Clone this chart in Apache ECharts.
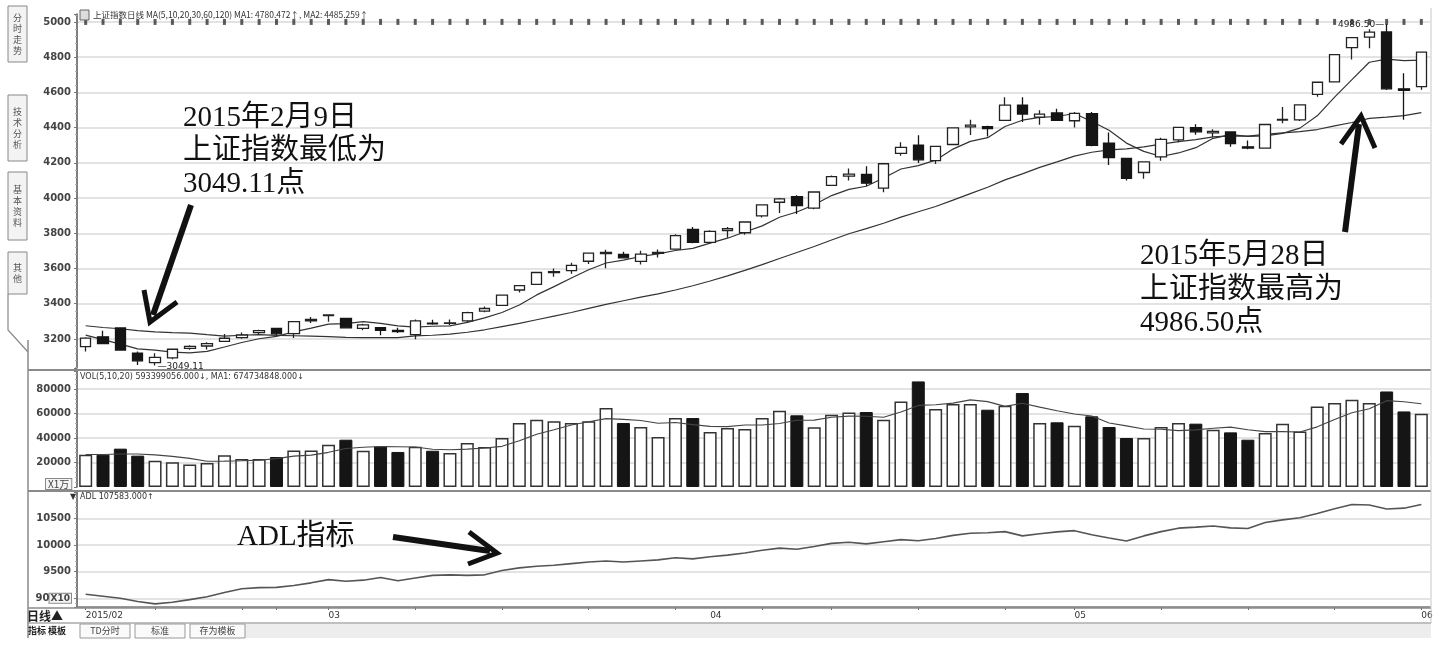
<!DOCTYPE html>
<html><head><meta charset="utf-8">
<script src="https://cdn.jsdelivr.net/npm/echarts@6/dist/echarts.min.js"></script>
<style>html,body{margin:0;padding:0;background:#fff}#c{width:1444px;height:650px}</style>
</head><body><div id="c"></div>
<script>
// ---------------- DATA ----------------
const dates = [
 '2015-02-03','2015-02-04','2015-02-05','2015-02-06','2015-02-09','2015-02-10','2015-02-11','2015-02-12','2015-02-13','2015-02-16','2015-02-17','2015-02-25','2015-02-26','2015-02-27',
 '2015-03-02','2015-03-03','2015-03-04','2015-03-05','2015-03-06','2015-03-09','2015-03-10','2015-03-11','2015-03-12','2015-03-13','2015-03-16','2015-03-17','2015-03-18','2015-03-19','2015-03-20','2015-03-23','2015-03-24','2015-03-25','2015-03-26','2015-03-27','2015-03-30','2015-03-31',
 '2015-04-01','2015-04-02','2015-04-03','2015-04-07','2015-04-08','2015-04-09','2015-04-10','2015-04-13','2015-04-14','2015-04-15','2015-04-16','2015-04-17','2015-04-20','2015-04-21','2015-04-22','2015-04-23','2015-04-24','2015-04-27','2015-04-28','2015-04-29','2015-04-30',
 '2015-05-04','2015-05-05','2015-05-06','2015-05-07','2015-05-08','2015-05-11','2015-05-12','2015-05-13','2015-05-14','2015-05-15','2015-05-18','2015-05-19','2015-05-20','2015-05-21','2015-05-22','2015-05-25','2015-05-26','2015-05-27','2015-05-28','2015-05-29',
 '2015-06-01'];
const monthLabels = ['2015/02','03','04','05','06'];

const openP = [3156,3212,3262,3120,3066,3092,3146,3160,3186,3207,3236,3260,3230,3303,
 3332,3317,3260,3264,3249,3224,3289,3289,3303,3358,3391,3478,3510,3576,3588,3641,3685,3680,3640,3686,3710,3822,
 3748,3815,3803,3899,3976,4008,3943,4072,4125,4134,4056,4254,4301,4212,4304,4404,4405,4441,4527,4460,4483,
 4439,4479,4311,4225,4145,4234,4330,4399,4370,4375,4291,4283,4442,4444,4589,4660,4854,4914,4943,4620,4633];
const closeP = [3204.91,3174.13,3136.53,3075.91,3095.12,3141.59,3157.70,3173.42,3203.83,3222.44,3246.91,3228.84,3298.36,3310.30,
 3336.28,3263.05,3279.53,3248.48,3241.19,3302.41,3286.07,3290.90,3349.32,3372.91,3449.30,3502.85,3577.30,3582.27,3617.32,3687.73,3691.41,3660.73,3682.09,3691.10,3786.57,3747.90,
 3810.29,3825.78,3863.93,3961.38,3994.81,3957.53,4034.31,4121.71,4135.56,4084.16,4194.82,4287.30,4217.08,4293.62,4398.49,4414.51,4393.69,4527.40,4476.62,4476.21,4441.66,
 4480.46,4298.71,4229.27,4112.21,4205.92,4333.58,4401.22,4375.76,4378.31,4308.69,4283.49,4417.55,4446.29,4529.42,4657.60,4813.80,4910.90,4941.71,4620.27,4611.74,4828.74];
const lowP = [3129,3170,3134,3052,3049.11,3084,3138,3140,3183,3201,3226,3222,3205,3291,
 3298,3260,3250,3221,3234,3198,3280,3278,3293,3351,3387,3463,3506,3553,3570,3626,3601,3657,3623,3662,3710,3744,
 3742,3775,3792,3890,3915,3910,3937,4069,4100,4069,4033,4240,4199,4193,4303,4358,4350,4441,4432,4416,4441,
 4400,4294,4187,4099,4110,4212,4317,4359,4345,4291,4277,4283,4425,4437,4575,4660,4787,4850,4614,4445,4615];
const highP = [3210,3247,3266,3129,3119,3146,3164,3181,3228,3237,3252,3262,3300,3324,
 3339,3319,3286,3266,3264,3311,3309,3311,3354,3384,3449,3503,3577,3600,3632,3688,3706,3695,3701,3708,3795,3835,
 3817,3835,3864,3961,4000,4016,4034,4128,4168,4180,4195,4317,4356,4293,4398,4444,4411,4572,4572,4499,4507,
 4489,4488,4372,4225,4205,4342,4401,4419,4391,4375,4327,4418,4517,4529,4657,4814,4911,4958,4986.50,4708,4829];
const ma5 = [3222,3196,3171,3144,3137,3125,3121,3129,3154,3180,3201,3215,3240,3261,3284,3287,3298,3288,3274,3267,
 3272,3274,3294,3320,3350,3393,3450,3497,3546,3593,3631,3648,3668,3683,3702,3714,3744,3772,3807,3842,
 3891,3921,3962,4014,4049,4067,4114,4165,4184,4215,4278,4322,4343,4406,4442,4458,4463,4480,4435,4385,
 4312,4265,4236,4256,4286,4339,4360,4350,4353,4367,4397,4467,4573,4672,4771,4789,4780,4783];
const ma20 = [3275,3265,3258,3247,3240,3236,3233,3224,3216,3221,3225,3220,3218,3216,3213,3209,3208,3207,3208,3217,
 3221,3227,3238,3252,3270,3288,3309,3330,3350,3374,3396,3417,3437,3456,3478,3502,3529,3558,3589,3622,
 3657,3691,3725,3762,3797,3826,3857,3892,3922,3952,3988,4025,4061,4103,4137,4174,4205,4238,4260,4273,
 4279,4291,4306,4320,4332,4347,4353,4352,4362,4370,4377,4389,4410,4429,4452,4459,4468,4485];
const volume = [26400,26400,31300,25600,21500,20200,18300,19600,25900,22900,22900,24500,29800,29800,34500,38600,29600,33100,28600,32900,
 29600,27700,35900,32700,40000,52200,54900,53600,52200,53600,64500,52200,49000,40800,56300,56300,44900,48200,47300,56300,
 62300,58500,48700,59000,60900,61200,54900,69900,86200,63700,67800,67800,63100,66400,76700,52200,52800,50000,57700,49000,
 40000,40000,49000,52200,51700,46800,44600,38600,44100,51700,45400,65800,68600,71300,68600,78000,61700,59800];
const volMa5 = [26500,26500,27000,27000,26200,25000,23400,21000,21100,21400,21900,23200,25200,26000,28300,31400,32500,33100,32900,32600,
 30800,30400,30900,31800,33200,37700,43100,46700,50600,53300,55800,55200,54300,52000,52600,50900,49500,49300,50600,50600,
 51800,54500,54600,57000,57900,57700,56900,61200,66600,67200,68500,71100,69700,65800,68400,65200,62200,59600,57900,52300,
 49900,47300,47100,46000,46600,47900,48900,46800,45200,45200,44900,49100,55100,60600,63900,70500,69600,67900];
const adl = [9076,9040,9000,8940,8895,8925,8975,9030,9110,9180,9200,9205,9240,9290,9350,9320,9340,9390,9330,9380,
 9430,9440,9430,9440,9520,9570,9600,9620,9650,9680,9700,9680,9700,9720,9760,9740,9780,9810,9850,9900,
 9940,9920,9970,10030,10050,10020,10060,10100,10080,10120,10180,10220,10230,10250,10170,10210,10245,10268,10190,10130,
 10074,10170,10250,10315,10335,10356,10320,10310,10420,10470,10510,10590,10680,10760,10750,10675,10690,10758];
const mineLevel = 5000;

// ---------------- helpers ----------------
const labelAt = {};
let mk = 0;
dates.forEach((d, i) => {
  if (i === 0 || d.slice(5, 7) !== dates[i - 1].slice(5, 7)) labelAt[i] = monthLabels[mk++];
});
function weekStart(i) {
  if (i === 0) return true;
  const a = new Date(dates[i - 1] + 'T00:00:00Z'), b = new Date(dates[i] + 'T00:00:00Z');
  const gap = (b - a) / 86400000;
  return b.getUTCDay() <= a.getUTCDay() || gap >= 7;
}

const LEFT = 77, WIDTH = 1353;
const axisFont = 'DejaVu Sans';
function yAx(grid, min, max, extra) {
  return Object.assign({
    type: 'value', gridIndex: grid, min: min, max: max, position: 'left',
    axisLine: { show: true, lineStyle: { color: '#555', width: 1.5 } },
    axisTick: { show: true, length: 3, lineStyle: { color: '#777' } },
    minorTick: { show: true, splitNumber: 5, length: 2, lineStyle: { color: '#aaa' } },
    axisLabel: { fontSize: 10, color: '#444', fontFamily: axisFont, fontWeight: 'bold', margin: 6,
      showMinLabel: false, showMaxLabel: false, formatter: (v) => String(v) },
    splitLine: { show: true, showMinLine: false, showMaxLine: false, lineStyle: { color: '#e3e3e3', width: 2 } }
  }, extra || {});
}

const G = [];
function T(x, y, text, font, extra) {
  G.push({ type: 'text', z: 100, silent: true,
    style: Object.assign({ x: x, y: y, text: text, font: font, fill: '#111', textAlign: 'left', textVerticalAlign: 'middle' }, extra || {}) });
}
function P(points, w, c) {
  G.push({ type: 'polyline', z: 100, silent: true, shape: { points: points },
    style: { stroke: c || '#111', lineWidth: w, fill: 'none', lineJoin: 'miter' } });
}
function R(x, y, w, h, stroke, fill, lw) {
  G.push({ type: 'rect', z: 90, silent: true, shape: { x: x, y: y, width: w, height: h },
    style: { stroke: stroke || 'none', fill: fill || 'none', lineWidth: lw || 1 } });
}

// frame / separators
P([[28, 370], [1431, 370]], 2, '#8a8a8a');
P([[28, 491], [1431, 491]], 2, '#8a8a8a');
P([[28, 608], [1431, 608]], 1.5, '#8a8a8a');
P([[28, 623], [1431, 623]], 1.5, '#aaa');
P([[28, 340], [28, 638]], 1.5, '#8a8a8a');
P([[1431, 8], [1431, 623]], 1, '#c8c8c8');

// sidebar tabs
const tabs = [['分时走势', 6, 56], ['技术分析', 95, 66], ['基本资料', 172, 68], ['其他', 252, 42]];
tabs.forEach(t => {
  R(8, t[1], 19, t[2], '#888', '#f3f3f3', 1);
  T(17.5, t[1] + t[2] / 2, t[0].split('').join('\n'), '9px "Noto Sans CJK SC"',
    { fill: '#555', textAlign: 'center', lineHeight: 11 });
});
P([[8, 294], [8, 330], [28, 352]], 1.2, '#888');

// panel titles
R(80, 10, 9, 10, '#666', '#ddd', 1);
T(93, 15, '上证指数日线 MA(5,10,20,30,60,120) MA1: 4780.472↑, MA2: 4485.259↑', '8.5px "Noto Sans CJK SC"', { fill: '#333' });
T(80, 377, 'VOL(5,10,20) 593399056.000↓, MA1: 674734848.000↓', '8px "DejaVu Sans"', { fill: '#333' });
T(70, 497, '▼', '8px "DejaVu Sans"', { fill: '#333' });
T(80, 497, 'ADL 107583.000↑', '8px "DejaVu Sans"', { fill: '#333' });
T(46, 484, 'X1万', '10px "Noto Sans CJK SC"', { fill: '#444', borderColor: '#888', borderWidth: 1, padding: [0, 2], backgroundColor: '#f4f4f4' });

// bottom strip
T(27, 616, '日线▲', 'bold 12px "Noto Sans CJK SC"', { fill: '#222' });
R(245, 624, 1186, 14, null, '#ededed');
T(28, 631, '指标 模板', 'bold 9px "Noto Sans CJK SC"', { fill: '#222' });
[['TD分时', 80, 50], ['标准', 135, 50], ['存为模板', 190, 55]].forEach(b => {
  R(b[1], 624, b[2], 14, '#999', '#fafafa', 1);
  T(b[1] + b[2] / 2, 631, b[0], '9px "Noto Sans CJK SC"', { fill: '#444', textAlign: 'center' });
});

// annotations
const bigFont = '29px "Liberation Serif", "Noto Sans CJK SC"';
T(183, 118, '2015年2月9日', bigFont);
T(183, 151, '上证指数最低为', bigFont);
T(183, 184, '3049.11点', bigFont);
T(1140, 256, '2015年5月28日', bigFont);
T(1140, 290, '上证指数最高为', bigFont);
T(1140, 323, '4986.50点', bigFont);
T(237, 537, 'ADL指标', bigFont);
// arrows
P([[191, 205], [153, 315]], 6);
P([[144, 290], [150, 322], [177, 302]], 5);
P([[1345, 232], [1359, 124]], 6);
P([[1341, 144], [1361, 116], [1375, 148]], 5);
P([[393, 537], [490, 551]], 6);
P([[469, 532], [497, 553], [468, 564]], 5);

// ---------------- chart ----------------
const chart = echarts.init(document.getElementById('c'), null, { renderer: 'canvas' });
const upStyle = { color: '#fff', borderColor: '#333', borderWidth: 1.5 };
const downStyle = { color: '#151515', borderColor: '#151515', borderWidth: 1 };
const option = {
  animation: false,
  backgroundColor: '#fff',
  grid: [
    { left: LEFT, top: 14, width: WIDTH, height: 354 },
    { left: LEFT, top: 371, width: WIDTH, height: 116 },
    { left: LEFT, top: 492, width: WIDTH, height: 115 }
  ],
  xAxis: [
    { type: 'category', gridIndex: 0, data: dates, boundaryGap: true, show: false },
    { type: 'category', gridIndex: 1, data: dates, boundaryGap: true, show: false },
    { type: 'category', gridIndex: 2, data: dates, boundaryGap: true,
      axisLine: { lineStyle: { color: '#777', width: 1.5 } },
      axisTick: { show: true, alignWithLabel: true, length: 3, interval: (i) => weekStart(i), lineStyle: { color: '#666' } },
      axisLabel: { interval: (i) => labelAt[i] !== undefined, formatter: (v, i) => labelAt[i] || '',
        align: 'left', fontSize: 9, color: '#333', fontFamily: axisFont, margin: 4 } }
  ],
  yAxis: [
    yAx(0, 3035, 5045, { splitNumber: 10 }),
    yAx(1, 0, 94700, { interval: 20000 }),
    yAx(2, 8837, 10993, { splitNumber: 4, axisLabel: { fontSize: 10, color: '#444', fontFamily: axisFont, fontWeight: 'bold', margin: 6,
      showMinLabel: false, showMaxLabel: false,
      formatter: (v) => v === 9000 ? '90{b|X10}' : String(v),
      rich: { b: { fontSize: 9, color: '#444', borderColor: '#888', borderWidth: 1, padding: [0, 1], backgroundColor: '#f4f4f4' } } } })
  ],
  series: [
    { name: 'MA5', type: 'line', xAxisIndex: 0, yAxisIndex: 0, data: ma5, symbol: 'none', silent: true,
      lineStyle: { color: '#333', width: 1.2 }, z: 3 },
    { name: 'MA20', type: 'line', xAxisIndex: 0, yAxisIndex: 0, data: ma20, symbol: 'none', silent: true,
      lineStyle: { color: '#333', width: 1.2 }, z: 3 },
    { name: '上证指数', type: 'candlestick', xAxisIndex: 0, yAxisIndex: 0, barWidth: 11, z: 4,
      data: dates.map((d, i) => [openP[i], closeP[i], lowP[i], highP[i]]),
      itemStyle: { color: '#fff', color0: '#151515', borderColor: '#222', borderColor0: '#151515', borderWidth: 1.3 },
      markPoint: {
        symbol: 'circle', symbolSize: 1, itemStyle: { color: 'rgba(0,0,0,0)' },
        data: [
          { type: 'min', valueDim: 'lowest', label: { show: true, position: 'right', distance: 0, offset: [2, 1],
            formatter: (p) => '—' + p.value.toFixed(2), fontSize: 9, color: '#222', fontFamily: axisFont } },
          { type: 'max', valueDim: 'highest', label: { show: true, position: 'left', distance: 0, offset: [-2, 0],
            formatter: (p) => p.value.toFixed(2) + '—', fontSize: 9, color: '#222', fontFamily: axisFont } }
        ]
      } },
    { name: 'mine', type: 'scatter', xAxisIndex: 0, yAxisIndex: 0, silent: true, z: 2,
      data: dates.map(d => [d, mineLevel]), symbol: 'rect', symbolSize: [3, 6], itemStyle: { color: '#333' } },
    { name: 'VOL', type: 'bar', xAxisIndex: 1, yAxisIndex: 1, barWidth: 13, silent: true,
      data: volume.map((v, i) => ({ value: v, itemStyle: closeP[i] >= openP[i] ? upStyle : downStyle })) },
    { name: 'VOL MA5', type: 'line', xAxisIndex: 1, yAxisIndex: 1, data: volMa5, symbol: 'none', silent: true,
      lineStyle: { color: '#444', width: 1.1 }, z: 5 },
    { name: 'ADL', type: 'line', xAxisIndex: 2, yAxisIndex: 2, data: adl, symbol: 'none', silent: true,
      lineStyle: { color: '#555', width: 1.6 } }
  ],
  graphic: G
};
chart.setOption(option);
</script>
</body></html>
